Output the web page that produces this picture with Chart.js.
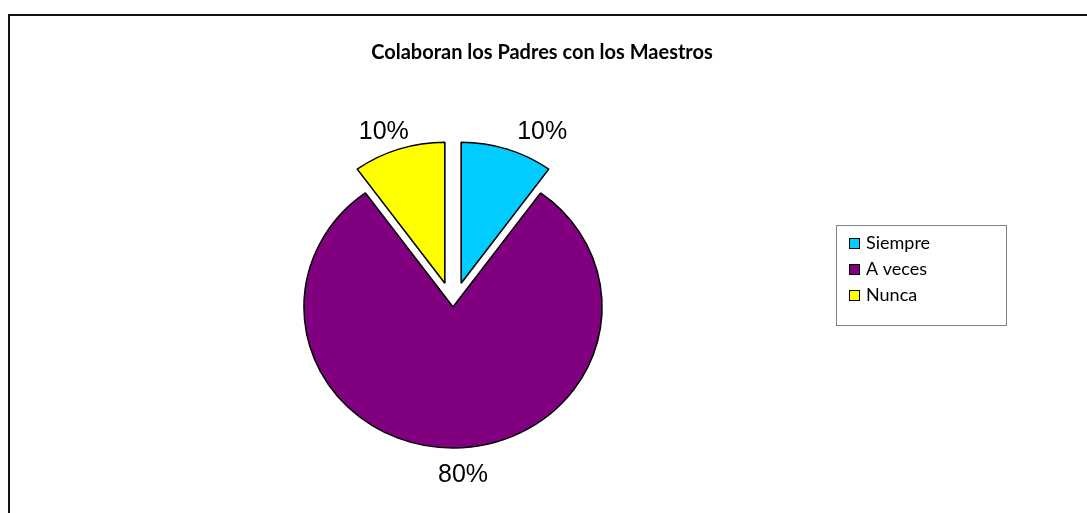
<!DOCTYPE html>
<html>
<head>
<meta charset="utf-8">
<script src="https://cdn.jsdelivr.net/npm/chart.js@4/dist/chart.umd.min.js"></script>
<style>
  html, body { margin: 0; padding: 0; background: #fff; }
  #wrap { width: 1087px; height: 513px; position: relative; }
</style>
</head>
<body>
<div id="wrap"><canvas id="c" width="1087" height="513"></canvas></div>
<script>
const titleText = 'Colaboran los Padres con los Maestros';
const categories = ['Siempre', 'A veces', 'Nunca'];
const values = [10, 80, 10];
const valueLabels = ['10%', '80%', '10%'];
const colors = ['#00CCFF', '#800080', '#FFFF00'];
const explodePx = [25, 0, 25];

const X_SCALE = 1.057;

const framePlugin = {
  id: 'frame',
  beforeDraw(chart) {
    const ctx = chart.ctx;
    ctx.save();
    ctx.fillStyle = '#fff';
    ctx.fillRect(0, 0, chart.width, chart.height);
    ctx.strokeStyle = '#111';
    ctx.lineWidth = 2;
    ctx.beginPath();
    ctx.moveTo(9, chart.height);
    ctx.lineTo(9, 15);
    ctx.lineTo(chart.width, 15);
    ctx.stroke();
    ctx.fillStyle = '#000';
    ctx.font = 'bold 20px Lato, "Open Sans", sans-serif';
    ctx.textAlign = 'center';
    ctx.textBaseline = 'middle';
    ctx.fillText(titleText, 542, 53);
    ctx.restore();
  }
};

// Draw the library's arc elements with an elliptical stretch and exploded slices.
const stretchPlugin = {
  id: 'stretch',
  beforeDatasetsDraw(chart) {
    const ctx = chart.ctx;
    const a = chart.chartArea;
    const cx = (a.left + a.right) / 2;
    const meta = chart.getDatasetMeta(0);
    ctx.save();
    ctx.translate(cx, 0);
    ctx.scale(X_SCALE, 1);
    ctx.translate(-cx, 0);
    meta.data.forEach((arc, i) => {
      const mid = (arc.startAngle + arc.endAngle) / 2;
      ctx.save();
      ctx.translate(Math.cos(mid) * explodePx[i], Math.sin(mid) * explodePx[i]);
      arc.draw(ctx, a);
      ctx.restore();
    });
    ctx.restore();
    return false;
  }
};

const labelPlugin = {
  id: 'pielabels',
  afterDraw(chart) {
    const ctx = chart.ctx;
    const meta = chart.getDatasetMeta(0);
    const a = chart.chartArea;
    const cx0 = (a.left + a.right) / 2;
    ctx.save();
    ctx.font = '25px "Liberation Sans", Arial, sans-serif';
    ctx.fillStyle = '#000';
    ctx.textAlign = 'center';
    ctx.textBaseline = 'middle';
    meta.data.forEach((arc, i) => {
      const p = arc.getProps(['x', 'y', 'startAngle', 'endAngle', 'outerRadius'], true);
      const mid = (p.startAngle + p.endAngle) / 2;
      const c = Math.cos(mid), s = Math.sin(mid);
      const r = p.outerRadius + explodePx[i];
      let x = p.x + c * r, y = p.y + s * r;
      x = cx0 + (x - cx0) * X_SCALE;
      const w = ctx.measureText(valueLabels[i]).width;
      const halfW = w / 2, halfH = 9.5;
      const sx = c > 0.1 ? 1 : (c < -0.1 ? -1 : 0);
      x += sx * halfW + 10;
      y += s < 0 ? (-halfH + s * 8) : (halfH + s * 18);
      ctx.fillText(valueLabels[i], x, y);
    });
    // legend
    const lx = 836, ly = 225, lw = 170, lh = 100;
    ctx.strokeStyle = '#808080';
    ctx.lineWidth = 1;
    ctx.strokeRect(lx + 0.5, ly + 0.5, lw, lh);
    ctx.font = '18px Lato, "Open Sans", sans-serif';
    ctx.textAlign = 'left';
    ctx.textBaseline = 'middle';
    categories.forEach((cat, i) => {
      const yy = 243 + i * 26;
      ctx.fillStyle = colors[i];
      ctx.fillRect(849, yy - 5, 11, 11);
      ctx.strokeStyle = '#000';
      ctx.strokeRect(849.5, yy - 4.5, 10, 10);
      ctx.fillStyle = '#000';
      ctx.fillText(cat, 866, yy);
    });
    ctx.restore();
  }
};

new Chart(document.getElementById('c'), {
  type: 'pie',
  data: {
    labels: categories,
    datasets: [{
      data: values,
      backgroundColor: colors,
      borderColor: '#000',
      borderWidth: 1.5,
      hoverOffset: 0
    }]
  },
  options: {
    responsive: false,
    animation: false,
    events: [],
    radius: 141,
    layout: { padding: { left: 0, right: 181, top: 101, bottom: 0 } },
    plugins: {
      legend: { display: false },
      title: { display: false },
      tooltip: { enabled: false }
    }
  },
  plugins: [framePlugin, stretchPlugin, labelPlugin]
});
</script>
</body>
</html>
